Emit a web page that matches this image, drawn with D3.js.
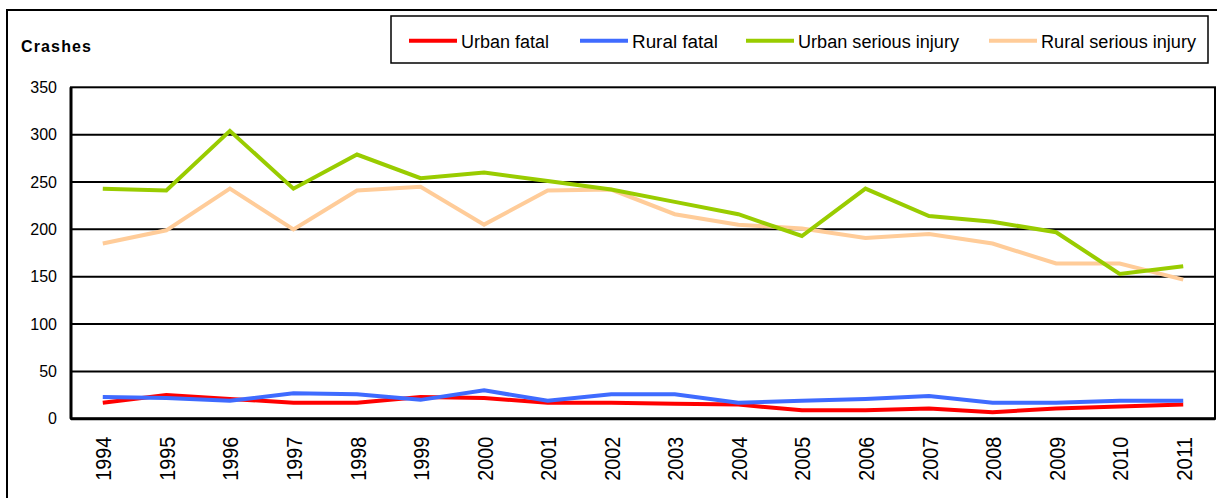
<!DOCTYPE html>
<html>
<head>
<meta charset="utf-8">
<script src="https://cdn.jsdelivr.net/npm/d3@7"></script>
<style>
  html, body { margin: 0; padding: 0; background: #fff; }
  svg { display: block; }
</style>
</head>
<body>
<svg id="chart" width="1217" height="498"></svg>
<script>
const years = [1994,1995,1996,1997,1998,1999,2000,2001,2002,2003,2004,2005,2006,2007,2008,2009,2010,2011];
const urbanFatal = [17,25,21,17,17,23,22,17,17,16,15,9,9,11,7,11,13,15];
const ruralFatal = [23,22,19,27,26,20,30,19,26,26,17,19,21,24,17,17,19,19];
const urbanSerious = [243,241,304,243,279,254,260,251,242,229,216,193,243,214,208,197,153,161];
const ruralSerious = [185,199,243,200,241,245,205,241,242,216,205,201,191,195,185,164,164,147];
const yTicks = [0,50,100,150,200,250,300,350];
const seriesNames = ["Urban fatal","Rural fatal","Urban serious injury","Rural serious injury"];
const seriesColors = ["#FF0000","#3F6BFF","#99CC00","#FFCC99"];
const seriesData = [urbanFatal, ruralFatal, urbanSerious, ruralSerious];

const svg = d3.select("#chart");
const pLeft = 71, pRight = 1215, pTop = 87.3, pBottom = 418.8;

// outer frame
svg.append("path")
  .attr("d", `M7,520 L7,10 L1230,10`)
  .attr("fill","none").attr("stroke","#000").attr("stroke-width",2);

const x = d3.scaleBand().domain(years).range([pLeft, pRight]).padding(0);
const y = d3.scaleLinear().domain([0,350]).range([pBottom, pTop]);

// grid lines
svg.append("g").selectAll("line").data(yTicks.filter(d => d>0 && d<350)).join("line")
  .attr("x1", pLeft).attr("x2", pRight)
  .attr("y1", d => y(d)).attr("y2", d => y(d))
  .attr("stroke","#000").attr("stroke-width",2);

// plot frame
svg.append("rect")
  .attr("x", pLeft).attr("y", pTop).attr("width", pRight-pLeft).attr("height", pBottom-pTop)
  .attr("fill","none").attr("stroke","#000").attr("stroke-width",2);
svg.append("line").attr("x1", pLeft).attr("x2", pRight).attr("y1", pBottom).attr("y2", pBottom)
  .attr("stroke","#000").attr("stroke-width",3);
svg.append("line").attr("x1", pLeft).attr("x2", pLeft).attr("y1", pTop).attr("y2", pBottom)
  .attr("stroke","#000").attr("stroke-width",3);

// y axis labels
const yAxis = d3.axisLeft(y).tickValues(yTicks).tickSize(0).tickPadding(14);
const gy = svg.append("g").attr("transform", `translate(${pLeft},0)`).call(yAxis);
gy.select(".domain").remove();
gy.selectAll("text")
  .attr("font-family","Liberation Sans, Arial, sans-serif")
  .attr("font-size","16px").attr("fill","#000");

// x axis labels
const xAxis = d3.axisBottom(x).tickSize(0).tickPadding(0);
const gx = svg.append("g").attr("transform", `translate(0,${pBottom})`).call(xAxis);
gx.select(".domain").remove();
gx.selectAll("text")
  .attr("font-family","Liberation Sans, Arial, sans-serif")
  .attr("font-size","22px").attr("fill","#000")
  .attr("textLength", 44).attr("lengthAdjust","spacingAndGlyphs")
  .attr("text-anchor","end")
  .attr("dominant-baseline","central")
  .attr("dy", null)
  .attr("y", 0)
  .attr("transform","translate(1,18) rotate(-90)");

// lines
const line = d3.line()
  .x((d,i) => x(years[i]) + x.bandwidth()/2)
  .y(d => y(d));
const drawOrder = [3,2,0,1];
drawOrder.forEach(k => {
  svg.append("path").datum(seriesData[k])
    .attr("d", line)
    .attr("fill","none")
    .attr("stroke", seriesColors[k])
    .attr("stroke-width", 4)
    .attr("stroke-linejoin","miter");
});

// y title
svg.append("text").attr("x", 21).attr("y", 52)
  .attr("font-family","Liberation Sans, Arial, sans-serif")
  .attr("font-weight","bold").attr("font-size","16px")
  .attr("textLength", 70).attr("lengthAdjust","spacing")
  .text("Crashes");

// legend
svg.append("rect").attr("x", 391).attr("y", 16).attr("width", 817).attr("height", 47)
  .attr("fill","#fff").attr("stroke","#000").attr("stroke-width",1.5);
const legX = [409, 580, 746, 989];
const legTextLen = [88, 86, 161, 155];
const lg = svg.append("g").selectAll("g").data(seriesNames).join("g");
lg.append("line")
  .attr("x1", (d,i) => legX[i]).attr("x2", (d,i) => legX[i] + 48)
  .attr("y1", 40.7).attr("y2", 40.7)
  .attr("stroke", (d,i) => seriesColors[i]).attr("stroke-width", 4);
lg.append("text")
  .attr("x", (d,i) => legX[i] + 52).attr("y", 47.5)
  .attr("font-family","Liberation Sans Narrow, Arial Narrow, Liberation Sans, sans-serif")
  .attr("font-size","18px").attr("fill","#000")
  .attr("textLength", (d,i) => legTextLen[i]).attr("lengthAdjust","spacingAndGlyphs")
  .text(d => d);
</script>
</body>
</html>
